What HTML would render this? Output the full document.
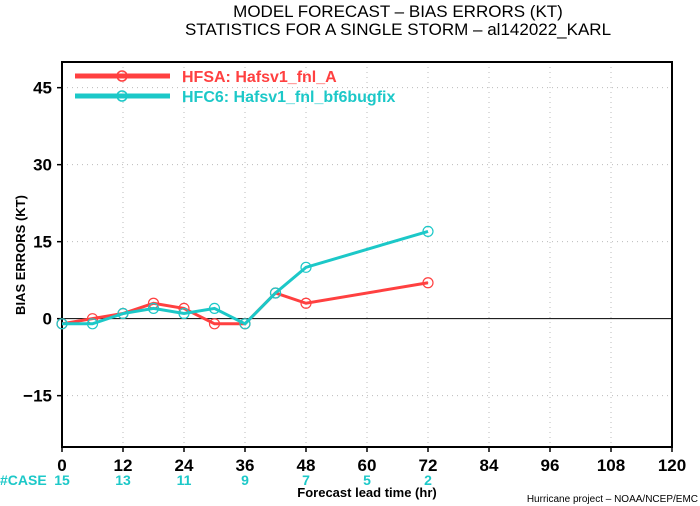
<!DOCTYPE html>
<html><head><meta charset="utf-8"><style>
body{margin:0;background:#fff;width:700px;height:506px;overflow:hidden}
svg{display:block;font-family:"Liberation Sans",sans-serif}
</style></head><body>
<svg id="c" width="700" height="506">
<text x="398" y="17" text-anchor="middle" font-size="17">MODEL FORECAST – BIAS ERRORS (KT)</text>
<text x="398" y="35" text-anchor="middle" font-size="17">STATISTICS FOR A SINGLE STORM – al142022_KARL</text>
<g id="grid"></g>
<g id="axes"></g>
<g id="series"></g>
<g>
<line x1="75" y1="76" x2="170" y2="76" stroke="#ff4040" stroke-width="5"/>
<circle cx="122" cy="76" r="5" fill="none" stroke="#ff4040" stroke-width="1.5"/>
<text x="182" y="82" font-size="16" font-weight="bold" fill="#ff4040">HFSA:  Hafsv1_fnl_A</text>
<line x1="75" y1="96" x2="170" y2="96" stroke="#1cc8c8" stroke-width="5"/>
<circle cx="122" cy="96" r="5" fill="none" stroke="#1cc8c8" stroke-width="1.5"/>
<text x="182" y="102" font-size="16" font-weight="bold" fill="#1cc8c8">HFC6:  Hafsv1_fnl_bf6bugfix</text>
</g>
<text transform="translate(25,255) rotate(-90)" text-anchor="middle" font-size="13" font-weight="bold">BIAS ERRORS (KT)</text>
<text x="367" y="497" text-anchor="middle" font-size="13" font-weight="bold">Forecast lead time (hr)</text>
<text x="0" y="485" font-size="14" font-weight="bold" fill="#1cc8c8">#CASE</text>
<text x="698" y="502" text-anchor="end" font-size="10">Hurricane project – NOAA/NCEP/EMC</text>
</svg>
<script>
const xTicks=[0,12,24,36,48,60,72,84,96,108,120];
const yTicks=[-15,0,15,30,45];
const hfsaX=[0,6,12,18,24,30,36,42,48,72];
const hfsaY=[-1,0,1,3,2,-1,-1,5,3,7];
const hfc6X=[0,6,12,18,24,30,36,42,48,72];
const hfc6Y=[-1,-1,1,2,1,2,-1,5,10,17];
const caseX=[0,12,24,36,48,60,72];
const caseN=[15,13,11,9,7,5,2];
const L=62,R=672,T=62,B=447,xmin=0,xmax=120,ymin=-25,ymax=50;
const sx=v=>L+(v-xmin)/(xmax-xmin)*(R-L);
const sy=v=>B-(v-ymin)/(ymax-ymin)*(B-T);
const NS="http://www.w3.org/2000/svg";
function mk(p,t,a){const e=document.createElementNS(NS,t);for(const k in a)e.setAttribute(k,a[k]);p.appendChild(e);return e;}
const g=document.getElementById('grid'),ax=document.getElementById('axes'),se=document.getElementById('series');
xTicks.forEach(v=>{if(v>0&&v<120){const l=mk(g,'line',{x1:sx(v),x2:sx(v),y1:T,y2:B,stroke:'#bbb','stroke-dasharray':'1,4'});

}
const t=mk(ax,'text',{x:sx(v),y:B+24,'text-anchor':'middle','font-size':17,'font-weight':'bold'});t.textContent=v;


mk(ax,'line',{x1:sx(v),x2:sx(v),y1:B,y2:B+5,stroke:'#000','stroke-width':1.5});});
yTicks.forEach(v=>{if(v!==0){const l=mk(g,'line',{x1:L,x2:R,y1:sy(v),y2:sy(v),stroke:'#bbb','stroke-dasharray':'1,4'});

}
const t=mk(ax,'text',{x:L-10,y:sy(v)+6,'text-anchor':'end','font-size':17,'font-weight':'bold'});t.textContent=v===0?'0':(v<0?'−'+(-v):v);


mk(ax,'line',{x1:L-5,x2:L,y1:sy(v),y2:sy(v),stroke:'#000','stroke-width':1.5});});
const z=mk(ax,'line',{x1:L,x2:R,y1:sy(0),y2:sy(0),stroke:'#000','stroke-width':1});


const fr=mk(ax,'rect',{x:L,y:T,width:R-L,height:B-T,fill:'none',stroke:'#000','stroke-width':2});


caseX.forEach((v,i)=>{const t=mk(ax,'text',{x:sx(v),y:485,'text-anchor':'middle','font-size':14,'font-weight':'bold',fill:'#1cc8c8'});t.textContent=caseN[i];

});
function draw(X,Y,c,name){const pl=mk(se,'polyline',{points:X.map((x,i)=>sx(x)+','+sy(Y[i])).join(' '),fill:'none',stroke:c,'stroke-width':3});


X.forEach((x,i)=>{const p=mk(se,'circle',{cx:sx(x),cy:sy(Y[i]),r:5,fill:'none',stroke:c,'stroke-width':1.2});

});}
draw(hfsaX,hfsaY,'#ff4040','hfsa');
draw(hfc6X,hfc6Y,'#1cc8c8','hfc6');
</script>
</body></html>
